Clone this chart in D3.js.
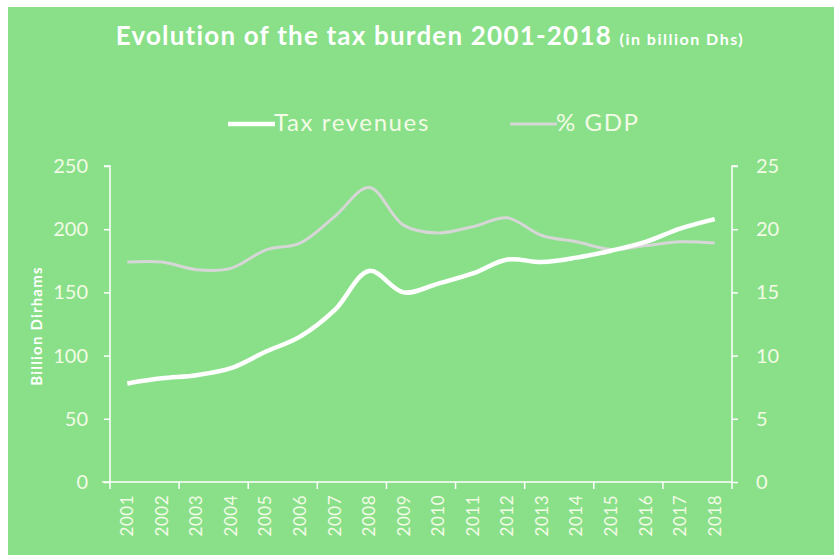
<!DOCTYPE html>
<html>
<head>
<meta charset="utf-8">
<script src="https://cdn.jsdelivr.net/npm/d3@7"></script>
<style>
  body { margin: 0; background: #fff; }
  svg text { font-family: "Lato", "DejaVu Sans", sans-serif; }
</style>
</head>
<body>
<div class="myChart"></div>
<script>
var years = ["2001", "2002", "2003", "2004", "2005", "2006", "2007", "2008", "2009",
  "2010", "2011", "2012", "2013", "2014", "2015", "2016", "2017", "2018"];
var taxRevenues = [78, 82, 84.5, 90, 103, 115, 136, 167, 150, 157, 165, 176, 174, 177.5, 183, 190, 200.5, 208];
var pctGdp = [17.4, 17.4, 16.8, 16.9, 18.35, 18.9, 21.0, 23.3, 20.3, 19.7, 20.2, 20.9, 19.5, 19.0, 18.4, 18.7, 19.0, 18.9];
var leftTicks = [0, 50, 100, 150, 200, 250];
var rightTicks = [0, 5, 10, 15, 20, 25];

var svgWidth = 834;
var svgHeight = 555;
var bg = "#89e089";
var textColor = "#f3fbe6";

var svg = d3.select(".myChart")
  .append("svg")
  .attr("width", svgWidth)
  .attr("height", svgHeight);

svg.append("rect")
  .attr("x", 8)
  .attr("y", 7)
  .attr("width", svgWidth - 8)
  .attr("height", svgHeight - 7)
  .attr("fill", bg);

// plot area (don't call it "top", window.top is read-only)
var plot = { left: 110, right: 732, top: 166, bottom: 482 };

var xScale = d3.scaleBand()
  .domain(years)
  .range([plot.left, plot.right]);
var yLeft = d3.scaleLinear().domain([0, 250]).range([plot.bottom, plot.top]);
var yRight = d3.scaleLinear().domain([0, 25]).range([plot.bottom, plot.top]);

// title
var title = svg.append("text")
  .attr("x", 430)
  .attr("y", 45)
  .attr("text-anchor", "middle")
  .attr("fill", "#fff")
  .style("font-weight", "bold");
title.append("tspan").style("font-size", "26px").style("letter-spacing", "1.2px")
  .text("Evolution  of the tax burden 2001-2018 ");
title.append("tspan").style("font-size", "16px").style("letter-spacing", "1.5px")
  .text("(in billion Dhs)");

// legend
var legend = [
  { name: "Tax revenues", color: "#ffffff", width: 4.5, x: 228 },
  { name: "% GDP", color: "#d6d6d6", width: 3, x: 510 }
];
legend.forEach(function(d) {
  svg.append("line")
    .attr("x1", d.x).attr("x2", d.x + 47)
    .attr("y1", 124).attr("y2", 124)
    .attr("stroke", d.color)
    .attr("stroke-width", d.width);
  svg.append("text")
    .attr("x", d.x + 46)
    .attr("y", 131)
    .attr("fill", textColor)
    .style("font-size", "24px")
    .style("letter-spacing", "1.6px")
    .text(d.name);
});

// axes
var leftAxis = d3.axisLeft(yLeft).tickValues(leftTicks).tickSize(6).tickPadding(16);
var rightAxis = d3.axisRight(yRight).tickValues(rightTicks).tickSize(6).tickPadding(18);
var bottomAxis = d3.axisBottom(xScale).tickSize(0).tickPadding(12);

var gLeft = svg.append("g")
  .attr("transform", "translate(" + plot.left + ",0)")
  .call(leftAxis);
var gRight = svg.append("g")
  .attr("transform", "translate(" + plot.right + ",0)")
  .call(rightAxis);
var gBottom = svg.append("g")
  .attr("transform", "translate(0," + plot.bottom + ")")
  .call(bottomAxis);

[gLeft, gRight, gBottom].forEach(function(g) {
  g.select(".domain").attr("stroke", "#fff").attr("stroke-width", 1.5);
  g.selectAll(".tick line").attr("stroke", "#fff").attr("stroke-width", 1.5);
  g.selectAll(".tick text").attr("fill", textColor).style("font-size", "20px");
});
gLeft.select(".domain").attr("d", "M-6," + plot.top + "H0V" + plot.bottom);
gRight.select(".domain").attr("d", "M6," + plot.top + "H0V" + plot.bottom);
gBottom.select(".domain").attr("d", "M" + (plot.left - 8) + ",0H" + plot.right);

// x tick marks every second year boundary
var step = xScale.step();
var bounds = d3.range(0, years.length + 1, 2);
gBottom.selectAll(".xtick")
  .data(bounds)
  .enter().append("line")
  .attr("x1", function(d) { return plot.left + d * step; })
  .attr("x2", function(d) { return plot.left + d * step; })
  .attr("y1", 0).attr("y2", 7)
  .attr("stroke", "#fff").attr("stroke-width", 1.5);

gBottom.selectAll(".tick text")
  .style("font-size", "17px")
  .style("letter-spacing", "0.5px")
  .attr("text-anchor", "end")
  .attr("transform", "rotate(-90)")
  .attr("x", -13)
  .attr("y", 0)
  .attr("dy", "0.35em");

// y axis title
svg.append("text")
  .attr("transform", "translate(42,326) rotate(-90)")
  .attr("text-anchor", "middle")
  .attr("fill", "#fff")
  .style("font-size", "15px")
  .style("font-weight", "bold")
  .style("letter-spacing", "1.2px")
  .text("Billion Dirhams");

// lines
var cx = function(d, i) { return xScale(years[i]) + xScale.bandwidth() / 2; };

var gdpLine = d3.line()
  .x(cx)
  .y(function(d) { return yRight(d); })
  .curve(d3.curveCatmullRom.alpha(0.5));
var taxLine = d3.line()
  .x(cx)
  .y(function(d) { return yLeft(d); })
  .curve(d3.curveCatmullRom.alpha(0.5));

svg.append("path")
  .datum(pctGdp)
  .attr("d", gdpLine)
  .attr("fill", "none")
  .attr("stroke", "#d6d6d6")
  .attr("stroke-width", 3);

svg.append("path")
  .datum(taxRevenues)
  .attr("d", taxLine)
  .attr("fill", "none")
  .attr("stroke", "#ffffff")
  .attr("stroke-width", 4.5);
</script>
</body>
</html>
